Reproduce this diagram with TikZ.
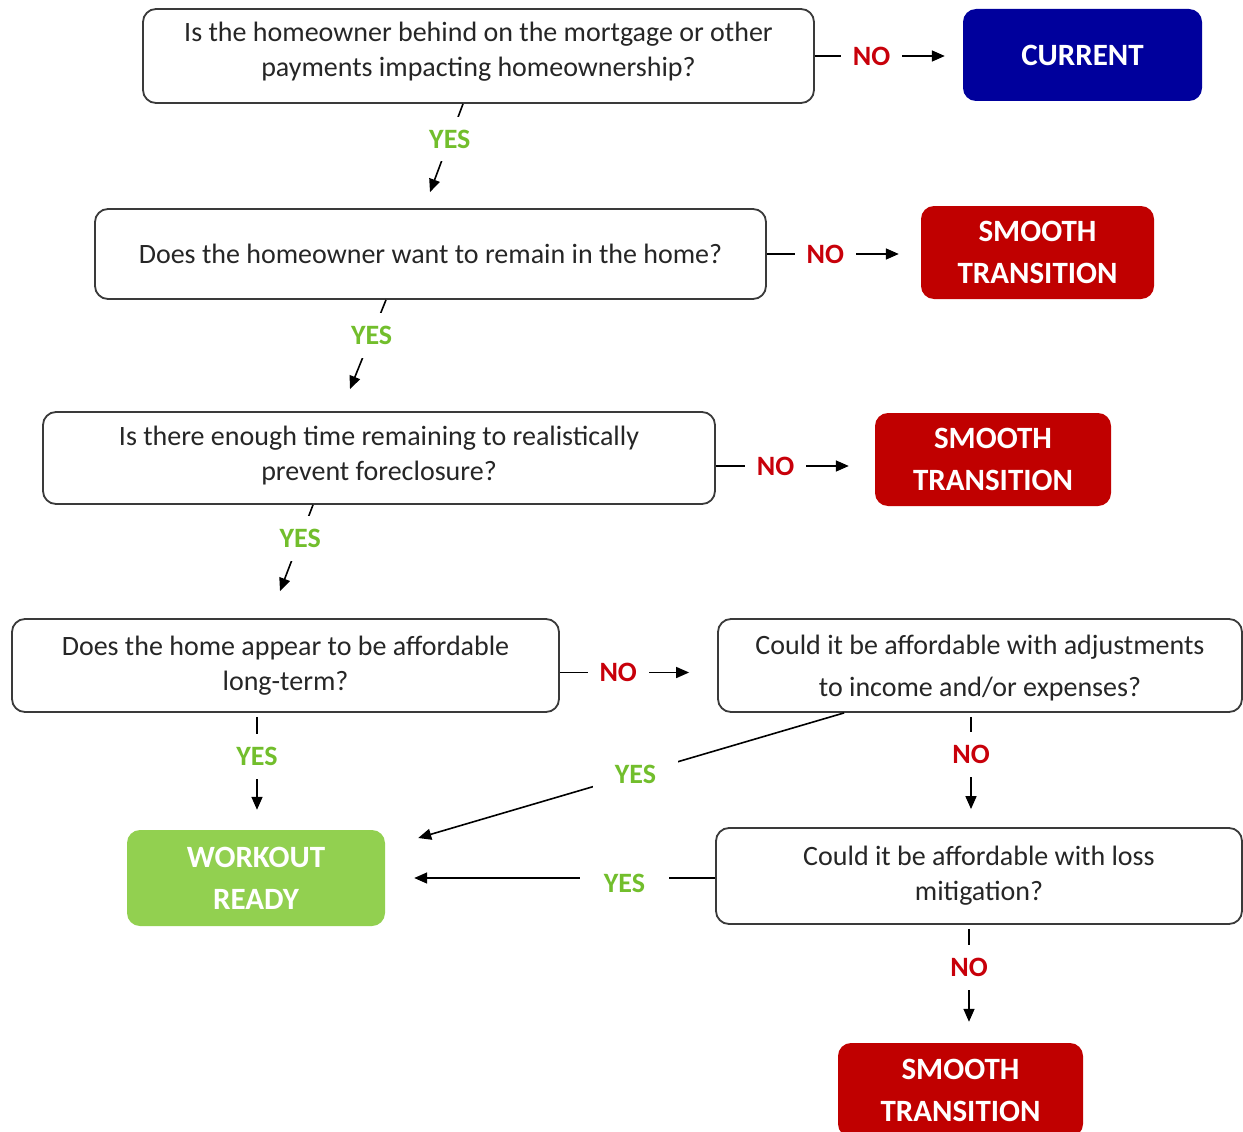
\documentclass[tikz,border=0pt]{standalone}
\usepackage{fontspec}
\setmainfont{Carlito}
\usetikzlibrary{arrows.meta,calc}
\definecolor{boxline}{HTML}{3A3A3A}
\definecolor{txt}{HTML}{262626}
\definecolor{curblue}{HTML}{00009C}
\definecolor{stred}{HTML}{C00000}
\definecolor{wrgreen}{HTML}{92D050}
\definecolor{yesgreen}{HTML}{72BE2C}
\definecolor{nored}{HTML}{C8000A}
\newcommand{\twolines}[4]{\raisebox{#1}[\height][\depth]{\begin{tabular}{@{}c@{}}#3\\[#2]#4\end{tabular}}}
\tikzset{
  qbox/.style={draw=boxline, line width=1.8pt, rounded corners=13pt, fill=white,
    text=txt, align=center, inner sep=0pt, font=\fontsize{28}{35}\selectfont},
  cbox/.style={rounded corners=13pt, text=white, align=center, inner sep=0pt,
    font=\fontsize{31}{42}\selectfont\bfseries},
  conn/.style={draw=black, line width=1.6pt, -{Triangle[length=13pt,width=11pt]}},
  lbl/.style={fill=white, inner xsep=12pt, inner ysep=13pt, font=\fontsize{28}{30}\selectfont\bfseries},
  yes/.style={lbl, text=yesgreen},
  no/.style={lbl, text=nored},
}
\begin{document}
\begin{tikzpicture}[x=1pt,y=-1pt]
\useasboundingbox[fill=white] (0,0) rectangle (1243,1132);
% boxes
\node[qbox, minimum width=671pt, minimum height=94pt] (q1) at (478.5,56)
  {\twolines{4pt}{0pt}{Is the homeowner behind on the mortgage or other}{payments impacting homeownership?}};
\node[cbox, fill=curblue, minimum width=239pt, minimum height=92pt] (cur) at (1082.5,55) {CURRENT};
\node[qbox, minimum width=671pt, minimum height=90pt] (q2) at (430.5,254)
  {Does the homeowner want to remain in the home?};
\node[cbox, fill=stred, minimum width=233pt, minimum height=93pt] (st1) at (1037.5,252.5) {SMOOTH\\TRANSITION};
\node[qbox, minimum width=672pt, minimum height=92pt] (q3) at (379,458)
  {\twolines{2.5pt}{0pt}{Is there enough time remaining to realistically}{prevent foreclosure?}};
\node[cbox, fill=stred, minimum width=236pt, minimum height=93pt] (st2) at (993,459.5) {SMOOTH\\TRANSITION};
\node[qbox, minimum width=547pt, minimum height=93pt] (q4) at (285.5,665.5)
  {Does the home appear to be affordable\\long-term?};
\node[qbox, minimum width=524pt, minimum height=93pt] (q5) at (980,665.5)
  {\twolines{-3pt}{7pt}{Could it be affordable with adjustments}{to income and/or expenses?}};
\node[cbox, fill=wrgreen, minimum width=258pt, minimum height=96pt] (wr) at (256,878) {WORKOUT\\READY};
\node[qbox, minimum width=526pt, minimum height=96pt] (q6) at (979,876)
  {Could it be affordable with loss\\mitigation?};
\node[cbox, fill=stred, minimum width=245pt, minimum height=94pt] (st3) at (960.5,1090) {SMOOTH\\TRANSITION};
% NO connectors
\draw[conn, shorten >=18pt] (q1.east) -- node[no, pos=0.383] {NO} (q1.east -| cur.west);
\draw[conn, shorten >=22pt] (q2.east) -- node[no, pos=0.38] {NO} (q2.east -| st1.west);
\draw[conn, shorten >=26pt] ([yshift=-8pt]q3.east) -- node[no, pos=0.375] {NO} ([yshift=-8pt]q3.east -| st2.west);
\draw[conn, shorten >=28pt] ([yshift=-7pt]q4.east) -- node[no, pos=0.371] {NO} ([yshift=-7pt]q4.east -| q5.west);
\draw[conn, shorten <=4pt, shorten >=18pt] ([xshift=-9pt]q5.south) -- node[no, pos=0.362] {NO} ([xshift=-9pt]q5.south |- q6.north);
\draw[conn, shorten <=4pt, shorten >=21pt] ([xshift=-10pt]q6.south) -- node[no, pos=0.361] {NO} ([xshift=-10pt]q6.south |- st3.north);
% YES connectors
\draw[conn] ([xshift=-15.5pt]q1.south) -- node[yes, pos=0.4] {YES} ([xshift=-0.5pt,yshift=16pt]q2.north);
\draw[conn] ([xshift=-44.5pt]q2.south) -- node[yes, pos=0.4] {YES} ([xshift=-29pt,yshift=22pt]q3.north);
\draw[conn] ([xshift=-66pt]q3.south) -- node[yes, pos=0.39] {YES} ([xshift=-5.5pt,yshift=27pt]q4.north);
\draw[conn, shorten <=4pt, shorten >=20pt] ([xshift=-28.5pt]q4.south) -- node[yes, pos=0.373] {YES} ([xshift=-28.5pt]q4.south |- wr.north);
\draw[conn] ([xshift=127pt]q5.south west) -- node[yes, pos=0.49, inner xsep=22pt] {YES} ([xshift=33pt,yshift=40pt]wr.east);
\draw[conn, shorten >=29pt] ([yshift=-2pt]q6.west) -- node[yes, pos=0.275, inner xsep=24pt, yshift=-5pt] {YES} ([yshift=-2pt]q6.west -| wr.east);
\end{tikzpicture}
\end{document}
